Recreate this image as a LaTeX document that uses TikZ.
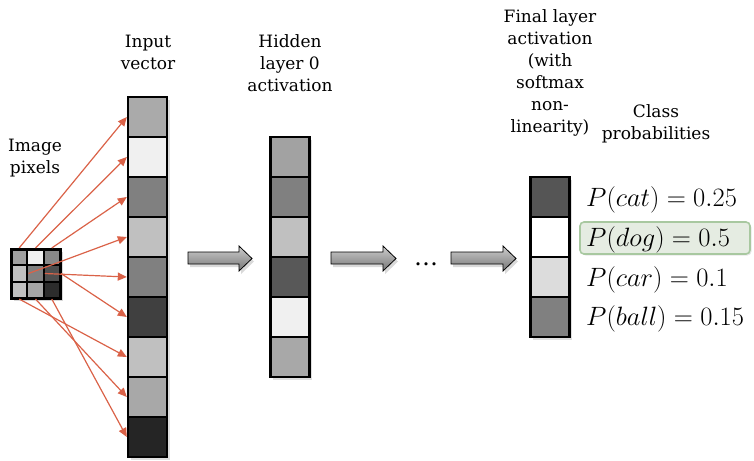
\RequirePackage{fix-cm}
\documentclass[tikz,border=0pt]{standalone}
\usepackage{fontspec}
\setmainfont{DejaVu Serif}
\usetikzlibrary{shadows,arrows.meta}
\definecolor{pxred}{RGB}{218,98,72}
\definecolor{hlfill}{RGB}{229,236,226}
\definecolor{hldraw}{RGB}{168,200,160}
\definecolor{arrtop}{RGB}{205,205,205}
\definecolor{arrbot}{RGB}{118,118,118}
\begin{document}
\begin{tikzpicture}[x=1pt,y=-1pt,
  cell/.style={draw=black, line width=2.4pt, minimum width=39pt, minimum height=40pt, inner sep=0pt,
    drop shadow={shadow xshift=2.5pt, shadow yshift=-2.5pt, opacity=0.25}},
  pix/.style={draw=black, line width=2.2pt, minimum size=16.3pt, inner sep=0pt},
  frame/.style={draw=black, line width=3pt, minimum size=49pt, inner sep=0pt, outer sep=0pt, fill=white,
    drop shadow={shadow xshift=2.5pt, shadow yshift=-2.5pt, opacity=0.3}},
  pxarrow/.style={draw=pxred, line width=1.2pt, -{Triangle[length=9pt,width=8pt]}},
  blockarrow/.style={draw=black, line width=0.8pt, top color=arrtop, bottom color=arrbot,
    drop shadow={shadow xshift=2pt, shadow yshift=-3pt, opacity=0.3}},
  lbl/.style={align=center, font=\fontsize{17}{22}\selectfont, inner sep=0pt},
  prob/.style={anchor=base west, inner sep=0pt, font=\fontsize{26.5}{30}\selectfont},
  hl/.style={draw=hldraw, line width=1.6pt, fill=hlfill, rounded corners=4pt, minimum width=170pt, minimum height=32pt,
    drop shadow={shadow xshift=1.5pt, shadow yshift=-1.5pt, opacity=0.2}}
]
\useasboundingbox (0,0) rectangle (754,460);

% labels
\node[lbl] (lpix) at (35,158) {Image\\pixels};
\node[lbl] (lin) at (148,52) {Input\\vector};
\node[lbl] (lhid) at (290,63) {Hidden\\layer 0\\activation};
\node[lbl] (lfin) at (550,73) {Final layer\\activation\\(with\\softmax\\non-\\linearity)};
\node[lbl] (lcls) at (656,124) {Class\\probabilities};

% image pixel grid
\node[frame] (grid) at (35.5,273.5) {};
\foreach \r/\y in {0/257.2,1/273.5,2/289.8}{
  \foreach \c/\x in {0/19.2,1/35.5,2/51.8}{
    \coordinate (p\r\c) at (\x,\y);
  }
}
\node[pix, fill={rgb,255:red,160;green,160;blue,160}] (g00) at (p00) {};
\node[pix, fill={rgb,255:red,240;green,240;blue,240}] (g01) at (p01) {};
\node[pix, fill={rgb,255:red,136;green,136;blue,136}] (g02) at (p02) {};
\node[pix, fill={rgb,255:red,192;green,192;blue,192}] (g10) at (p10) {};
\node[pix, fill={rgb,255:red,128;green,128;blue,128}] (g11) at (p11) {};
\node[pix, fill={rgb,255:red,78;green,78;blue,78}] (g12) at (p12) {};
\node[pix, fill={rgb,255:red,192;green,192;blue,192}] (g20) at (p20) {};
\node[pix, fill={rgb,255:red,165;green,165;blue,165}] (g21) at (p21) {};
\node[pix, fill={rgb,255:red,44;green,44;blue,44}] (g22) at (p22) {};
\draw[line width=3pt] (grid.north west) rectangle (grid.south east);

% input vector
\node[cell, fill={rgb,255:red,170;green,170;blue,170}] (in1) at (147.5,117) {};
\node[cell, fill={rgb,255:red,240;green,240;blue,240}] (in2) at (147.5,157) {};
\node[cell, fill={rgb,255:red,128;green,128;blue,128}] (in3) at (147.5,197) {};
\node[cell, fill={rgb,255:red,192;green,192;blue,192}] (in4) at (147.5,237) {};
\node[cell, fill={rgb,255:red,128;green,128;blue,128}] (in5) at (147.5,277) {};
\node[cell, fill={rgb,255:red,64;green,64;blue,64}] (in6) at (147.5,317) {};
\node[cell, fill={rgb,255:red,192;green,192;blue,192}] (in7) at (147.5,357) {};
\node[cell, fill={rgb,255:red,168;green,168;blue,168}] (in8) at (147.5,397) {};
\node[cell, fill={rgb,255:red,37;green,37;blue,37}] (in9) at (147.5,437) {};

% hidden layer
\node[cell, fill={rgb,255:red,162;green,162;blue,162}] (h1) at (290,157) {};
\node[cell, fill={rgb,255:red,128;green,128;blue,128}] (h2) at (290,197) {};
\node[cell, fill={rgb,255:red,192;green,192;blue,192}] (h3) at (290,237) {};
\node[cell, fill={rgb,255:red,88;green,88;blue,88}] (h4) at (290,277) {};
\node[cell, fill={rgb,255:red,240;green,240;blue,240}] (h5) at (290,317) {};
\node[cell, fill={rgb,255:red,168;green,168;blue,168}] (h6) at (290,357) {};

% final layer
\node[cell, fill={rgb,255:red,85;green,85;blue,85}] (f1) at (550,197) {};
\node[cell, fill=white] (f2) at (550,237) {};
\node[cell, fill={rgb,255:red,220;green,220;blue,220}] (f3) at (550,277) {};
\node[cell, fill={rgb,255:red,128;green,128;blue,128}] (f4) at (550,317) {};

% pixel to input arrows
\draw[pxarrow] (g00.north) -- (in1.west);
\draw[pxarrow] (g01.north) -- (in2.west);
\draw[pxarrow] (g02.north) -- (in3.west);
\draw[pxarrow] (g10.east) -- (in4.west);
\draw[pxarrow] (g11.east) -- (in5.west);
\draw[pxarrow] (g12.east) -- (in6.west);
\draw[pxarrow] (g20.south) -- (in7.west);
\draw[pxarrow] (g21.south) -- (in8.west);
\draw[pxarrow] (g22.south) -- (in9.west);

% block arrows
\foreach \a/\b/\t in {188/239/252, 331/383/396, 451/503/516}{
  \path[blockarrow] (\a,252) -- (\b,252) -- (\b,246) -- (\t,258.5) -- (\b,271) -- (\b,264) -- (\a,264) -- cycle;
}
\node[anchor=base, font=\fontsize{24}{28}\selectfont, inner sep=0pt] (dots) at (426,265) {\dots};

% class probabilities
\node[hl] (hl) at (665,238) {};
\node[prob] (pcat) at (586,206) {$P(cat) = 0.25$};
\node[prob] (pdog) at (586,246) {$P(dog) = 0.5$};
\node[prob] (pcar) at (586,286) {$P(car) = 0.1$};
\node[prob] (pball) at (586,325) {$P(ball) = 0.15$};
\end{tikzpicture}
\end{document}
